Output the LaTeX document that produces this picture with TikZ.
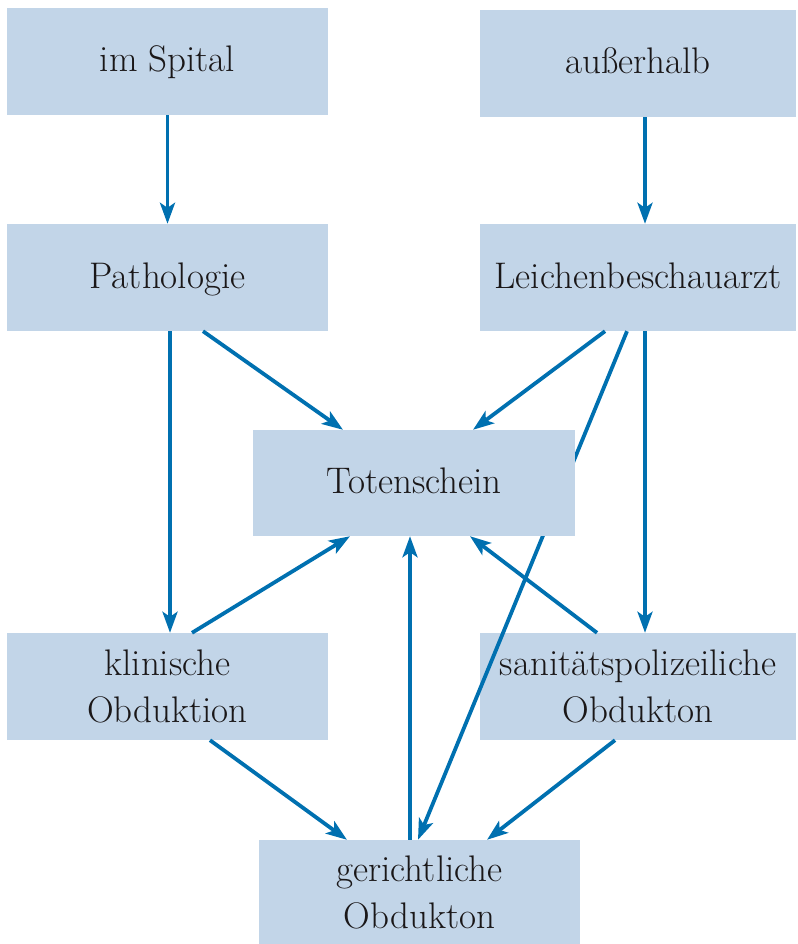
\documentclass[tikz,border=0pt]{standalone}
\usetikzlibrary{arrows.meta}
\definecolor{boxfill}{HTML}{C2D5E8}
\definecolor{arrowblue}{HTML}{0070B0}
\definecolor{txt}{HTML}{1A1718}
\begin{document}
\begin{tikzpicture}[x=1pt,y=-1pt,
  box/.style={fill=boxfill, draw=none, minimum width=321pt, minimum height=107pt,
    inner sep=0pt, align=center, text=txt,
    font=\fontsize{37}{47}\selectfont},
  oneline/.style={text height=25pt, text depth=4pt},
  conn/.style={draw=arrowblue, line width=3.8pt,
    -{Stealth[length=21pt,width=15pt,inset=5pt]}}]
\useasboundingbox (0,0) rectangle (797,944);
\node[box, oneline] (spital) at (167.5,61.5) {im Spital};
\node[box, oneline, minimum width=316pt] (ausser) at (638,63.5) {außerhalb};
\node[box, oneline] (patho) at (167.5,277.5) {Pathologie};
\node[box, oneline, minimum width=316pt] (leichen) at (638,277.5) {Leichenbeschauarzt};
\node[box] (klin) at (167.5,686.5) {klinische\\Obduktion};
\node[box, minimum width=316pt] (sanit) at (638,686.5) {sanitätspolizeiliche\\Obdukton};
\node[box, minimum height=104pt] (gericht) at (419.5,892) {gerichtliche\\Obdukton};
% long arrow passing behind Totenschein
\draw[conn] ([xshift=-11pt]leichen.south) -- ([xshift=-1.5pt]gericht.north);
\node[box, oneline, minimum width=322pt, minimum height=106pt] (toten) at (414,483) {Totenschein};
\draw[conn] (spital.south) -- (patho.north);
\draw[conn] ([xshift=7pt]ausser.south) -- ([xshift=7pt]leichen.north);
\draw[conn] ([xshift=2.5pt]patho.south) -- ([xshift=2.5pt]klin.north);
\draw[conn] ([xshift=35.5pt]patho.south) -- ([xshift=-71pt]toten.north);
\draw[conn] ([xshift=-33pt]leichen.south) -- ([xshift=59pt]toten.north);
\draw[conn] ([xshift=7pt]leichen.south) -- ([xshift=7pt]sanit.north);
\draw[conn] ([xshift=24.5pt]klin.north) -- ([xshift=-64pt]toten.south);
\draw[conn] ([xshift=-9.5pt]gericht.north) -- ([xshift=-4pt]toten.south);
\draw[conn] ([xshift=-41pt]sanit.north) -- ([xshift=56pt]toten.south);
\draw[conn] ([xshift=42.5pt]klin.south) -- ([xshift=-72.5pt]gericht.north);
\draw[conn] ([xshift=-23pt]sanit.south) -- ([xshift=67.5pt]gericht.north);
\end{tikzpicture}
\end{document}
